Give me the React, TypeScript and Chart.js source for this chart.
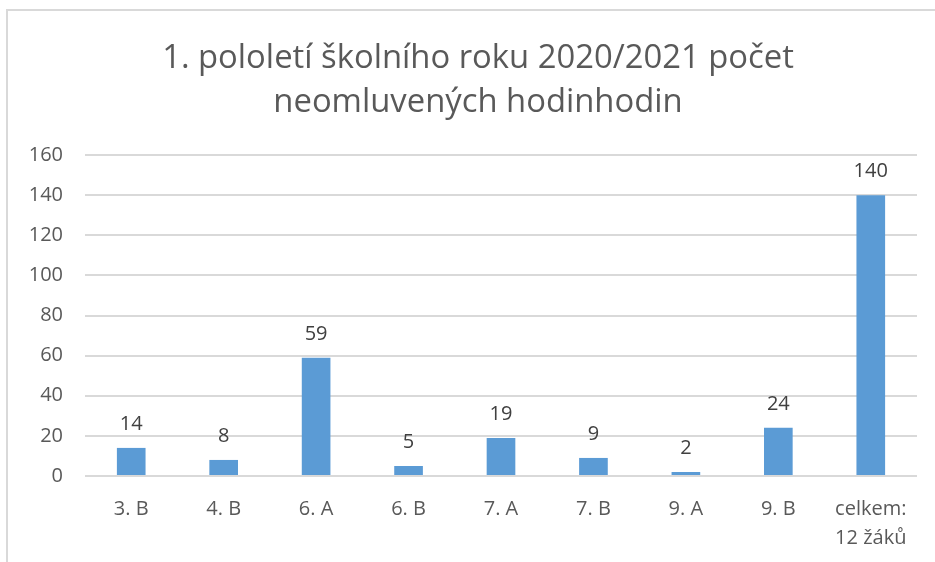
import React, { useEffect, useRef } from "react";
import { Chart, registerables } from "chart.js";

Chart.register(...registerables);

const categories: (string | string[])[] = ["3. B", "4. B", "6. A", "6. B", "7. A", "7. B", "9. A", "9. B", ["celkem:", "12 žáků"]];
const values: number[] = [14, 8, 59, 5, 19, 9, 2, 24, 140];
const yTicks = { min: 0, max: 160, step: 20 };
const titleLines: string[] = ["1. pololetí školního roku 2020/2021 počet", "neomluvených hodinhodin"];

const FONT = "'Open Sans', 'Liberation Sans', sans-serif";

const borderPlugin = {
  id: "frameBorder",
  beforeDraw(chart: any) {
    const ctx = chart.ctx;
    ctx.save();
    ctx.strokeStyle = "#d9d9d9";
    ctx.lineWidth = 2;
    ctx.beginPath();
    ctx.moveTo(7, chart.height);
    ctx.lineTo(7, 10);
    ctx.lineTo(chart.width, 10);
    ctx.stroke();
    ctx.restore();
  },
};

const titlePlugin = {
  id: "customTitle",
  afterDraw(chart: any) {
    const ctx = chart.ctx;
    ctx.save();
    ctx.fillStyle = "#595959";
    ctx.font = `32.8px ${FONT}`;
    ctx.textAlign = "center";
    ctx.textBaseline = "alphabetic";
    ctx.fillText(titleLines[0], 478, 68);
    ctx.fillText(titleLines[1], 478, 112);
    ctx.restore();
  },
};

const labelPlugin = {
  id: "barValueLabels",
  afterDatasetsDraw(chart: any) {
    const ctx = chart.ctx;
    const meta = chart.getDatasetMeta(0);
    ctx.save();
    ctx.fillStyle = "#404040";
    ctx.font = `20px ${FONT}`;
    ctx.textAlign = "center";
    ctx.textBaseline = "alphabetic";
    meta.data.forEach((bar: any, i: number) => {
      ctx.fillText(String(values[i]), bar.x, bar.y - 18);
    });
    ctx.restore();
  },
};

export default function App() {
  const ref = useRef<HTMLCanvasElement>(null);
  useEffect(() => {
    if (!ref.current) return;
    const chart = new Chart(ref.current, {
      type: "bar",
      data: {
        labels: categories,
        datasets: [
          {
            data: values,
            backgroundColor: "#5b9bd5",
            barPercentage: 0.31,
            categoryPercentage: 1,
          },
        ],
      },
      options: {
        animation: false,
        responsive: false,
        maintainAspectRatio: false,
        layout: { padding: { left: 0, right: 18, top: 155, bottom: 0 } },
        plugins: {
          legend: { display: false },
          tooltip: { enabled: false },
          title: { display: false },
        },
        scales: {
          x: {
            grid: { display: false, drawTicks: false },
            border: { display: false },
            ticks: {
              color: "#595959",
              font: { family: FONT, size: 20, lineHeight: 1.45 },
              padding: 19,
              maxRotation: 0,
              autoSkip: false,
            },
            afterFit(scale: any) {
              scale.height = 86;
            },
          },
          y: {
            min: yTicks.min,
            max: yTicks.max,
            grid: { color: "#d9d9d9", lineWidth: 2, drawTicks: false },
            border: { display: false },
            ticks: {
              stepSize: yTicks.step,
              color: "#595959",
              font: { family: FONT, size: 20 },
              padding: 22,
            },
            afterFit(scale: any) {
              scale.width = 85;
            },
          },
        },
      },
      plugins: [borderPlugin, labelPlugin, titlePlugin],
    });
    return () => chart.destroy();
  }, []);
  return (
    <div style={{ position: "fixed", left: 0, top: 0, width: 935, height: 562, background: "#fff" }}>
      <canvas ref={ref} width={935} height={562} style={{ display: "block" }} />
    </div>
  );
}
